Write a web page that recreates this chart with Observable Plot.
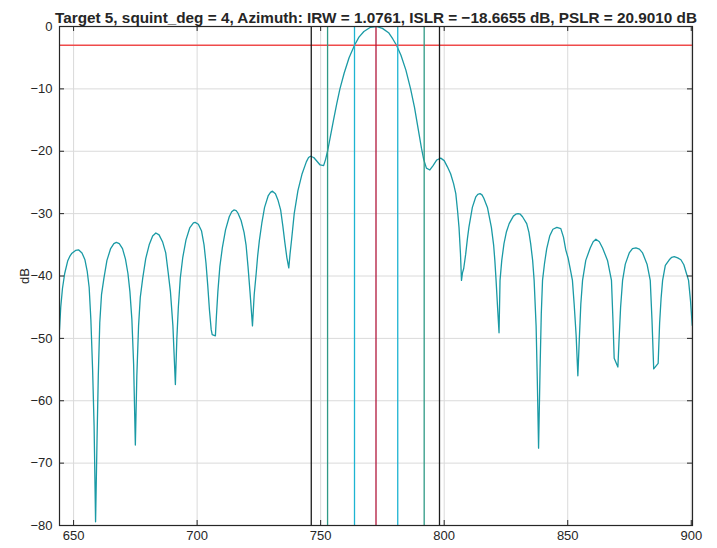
<!DOCTYPE html>
<html>
<head>
<meta charset="utf-8">
<script src="https://cdn.jsdelivr.net/npm/d3@7"></script>
<script src="https://cdn.jsdelivr.net/npm/@observablehq/plot@0.6"></script>
<style>
  html, body { margin: 0; padding: 0; background: #ffffff; }
</style>
</head>
<body>
<div id="chart"></div>
<script>
const chartTitle = "Target 5, squint_deg = 4, Azimuth: IRW = 1.0761, ISLR = \u221218.6655 dB, PSLR = 20.9010 dB";
const yLabel = "dB";
const xTicks = [650, 700, 750, 800, 850, 900];
const yTicks = [-80, -70, -60, -50, -40, -30, -20, -10, 0];

// azimuth profile samples (position, dB)
const azPos = [
  644.3, 644.8, 645.5, 646.4, 647.6, 648.4, 649.2, 650.8, 652.0, 653.4, 654.6, 655.5, 656.3, 657.0, 657.7, 658.3, 658.9,
  659.5, 660.0, 660.6, 661.3, 662.3, 663.5, 665.0, 666.3, 667.3, 668.5, 669.8, 671.0, 672.0, 672.8, 673.6, 674.3, 675.0,
  675.6, 676.3, 677.0, 678.0, 679.2, 680.6, 682.0, 683.3, 684.6, 686.0, 687.3, 688.3, 689.2, 690.2, 691.2,
  691.8, 692.4, 693.2, 694.2, 695.5, 697.0, 698.5, 699.2, 700.5, 701.8, 702.8, 703.6, 704.3, 705.0, 705.7, 706.1, 707.4,
  707.8, 708.4, 709.2, 710.2, 711.5, 713.0, 714.0, 714.9, 715.8, 716.5, 717.8, 719.0, 719.8, 720.6, 721.4, 722.4,
  723.1, 723.9, 724.5, 725.2, 726.2, 727.3, 728.8, 729.7, 730.5, 731.7, 732.7, 733.8, 734.7, 735.5, 736.3, 737.1,
  737.6, 738.2, 739.3, 740.8, 742.5, 744.2, 745.1, 745.9, 747.2, 748.5, 749.8, 751.2,
  752.0, 752.9, 754.0, 755.2, 756.5, 757.8, 759.5, 761.5, 763.7, 765.5, 767.5, 770.0, 772.5, 775.0, 777.5, 779.2,
  780.7, 782.5, 784.5, 786.4, 788.0, 789.5, 790.8, 791.7, 792.8, 794.2, 795.5, 797.0, 798.6,
  800.0, 801.3, 802.6, 803.8, 804.7, 805.4, 806.0, 806.6, 807.0, 807.4, 807.9,
  808.7, 809.4, 810.0, 811.4, 812.8, 813.6, 814.5, 815.3, 816.0, 817.5, 819.1, 820.0, 820.5, 821.0, 821.6, 822.2,
  822.6, 823.3, 824.2, 825.2, 826.3, 828.0, 829.0, 829.9, 830.8, 831.7, 833.4, 834.3, 835.0, 835.8, 836.4, 837.2, 837.7, 838.2,
  838.8, 839.3, 839.8, 840.6, 841.5, 842.7, 844.0, 845.6, 847.2, 848.3, 849.2, 850.2, 851.0, 851.9, 852.6, 853.4, 854.1,
  854.7, 855.3, 856.0, 857.3, 859.1, 860.3, 861.4, 862.8, 864.1, 866.1, 867.7, 868.3, 868.8, 870.3,
  870.8, 871.4, 872.2, 873.3, 874.9, 876.2, 877.6, 879.0, 880.3, 882.1, 883.4, 884.1, 884.8, 886.6,
  887.2, 887.8, 888.4, 889.5, 891.1, 892.1, 893.1, 894.5, 895.8, 897.0, 897.9, 898.9, 899.7, 900.4
];
const azDb = [
  -48.6, -45.0, -42.0, -39.6, -37.6, -36.9, -36.4, -35.9, -35.8, -36.3, -37.4, -39.2, -41.8, -47.0, -55.0, -64.0, -79.4,
  -66.0, -56.0, -47.5, -43.0, -40.3, -37.5, -35.6, -34.8, -34.6, -34.8, -35.6, -37.3, -39.6, -42.5, -47.0, -54.1, -67.1,
  -56.0, -48.0, -43.4, -40.3, -37.2, -35.0, -33.6, -33.1, -33.4, -34.5, -36.3, -39.5, -42.5, -48.0, -57.4,
  -50.0, -45.0, -40.3, -37.0, -34.2, -32.3, -31.5, -31.4, -31.7, -32.8, -35.0, -38.0, -41.5, -45.5, -48.6, -49.4, -49.6,
  -46.5, -42.5, -38.5, -35.5, -32.6, -30.5, -29.7, -29.4, -29.5, -29.9, -31.1, -33.0, -35.0, -38.5, -42.5, -48.0,
  -43.0, -39.6, -36.8, -34.3, -31.5, -29.0, -27.1, -26.6, -26.4, -26.8, -27.8, -29.4, -32.0, -34.6, -37.0, -38.7,
  -36.5, -34.3, -30.0, -26.3, -23.6, -21.7, -21.0, -20.8, -21.0, -21.6, -22.2, -22.3,
  -21.3, -19.8, -17.5, -15.0, -12.4, -10.0, -7.5, -5.0, -3.0, -1.7, -0.8, -0.15, 0, -0.3, -1.0, -2.0,
  -3.0, -4.6, -7.0, -10.0, -13.0, -16.5, -19.5, -21.3, -22.7, -23.0, -22.3, -21.4, -21.1,
  -21.5, -22.5, -23.6, -25.2, -26.8, -29.5, -32.2, -36.5, -40.7, -39.5, -38.8,
  -36.5, -34.0, -32.2, -29.0, -27.3, -26.9, -26.8, -27.0, -27.5, -29.0, -32.2, -35.0, -37.5, -40.7, -45.0, -49.1,
  -40.7, -37.5, -34.8, -32.9, -31.6, -30.4, -30.1, -30.0, -30.1, -30.5, -31.6, -33.0, -34.8, -37.5, -40.7, -48.0, -57.0, -67.6,
  -55.0, -46.0, -40.7, -38.0, -35.6, -33.6, -32.5, -32.2, -32.4, -33.8, -35.8, -37.2, -38.8, -40.7, -44.5, -49.5, -56.0,
  -50.0, -44.5, -40.7, -37.5, -35.5, -34.5, -34.1, -34.5, -35.5, -37.5, -40.7, -47.0, -53.2, -54.6,
  -50.0, -45.0, -40.7, -38.1, -36.3, -35.6, -35.5, -35.7, -36.3, -38.1, -40.7, -47.0, -54.9, -54.0,
  -47.5, -43.5, -40.7, -38.3, -37.4, -37.0, -36.9, -37.1, -37.4, -38.2, -39.4, -40.7, -44.0, -47.9
];

// marker lines
const halfPowerLevel = [-3];
const outerBounds = [746.2, 798.1];
const mainlobeBounds = [752.8, 791.9];
const halfPowerBounds = [763.7, 781.2];
const peakPos = [772.4];

const profile = azPos.map((x, i) => ({x, y: azDb[i]}));

const W = 717, H = 548;
const mL = 59, mR = 25, mT = 26, mB = 23;
const plotW = W - mL - mR, plotH = H - mT - mB;
const axisColor = "#262626";

const chart = Plot.plot({
  width: W,
  height: H,
  marginLeft: mL,
  marginRight: mR,
  marginTop: mT,
  marginBottom: mB,
  style: {fontFamily: "'Liberation Sans', Arial, Helvetica, sans-serif", fontSize: "13px", color: axisColor, background: "#ffffff"},
  x: {domain: [644.3, 900.5]},
  y: {domain: [-80, 0]},
  marks: [
    Plot.gridX(xTicks, {stroke: "#dadada", strokeOpacity: 1, strokeWidth: 1}),
    Plot.gridY(yTicks, {stroke: "#dadada", strokeOpacity: 1, strokeWidth: 1}),
    Plot.line(profile, {x: "x", y: "y", stroke: "#1a9aa5", strokeWidth: 1.3, clip: true}),
    Plot.ruleY(halfPowerLevel, {stroke: "#ef4a4a", strokeWidth: 1.4}),
    Plot.ruleX(outerBounds, {stroke: "#1c1c1c", strokeWidth: 1.3}),
    Plot.ruleX(mainlobeBounds, {stroke: "#2f9a86", strokeWidth: 1.3}),
    Plot.ruleX(halfPowerBounds, {stroke: "#1db4d2", strokeWidth: 1.3}),
    Plot.ruleX(peakPos, {stroke: "#b1173b", strokeWidth: 1.3}),
    Plot.tickX(xTicks, {x: d => d, insetTop: plotH - 5, stroke: axisColor}),
    Plot.tickX(xTicks, {x: d => d, insetBottom: plotH - 5, stroke: axisColor}),
    Plot.tickY(yTicks, {y: d => d, insetRight: plotW - 5, stroke: axisColor}),
    Plot.tickY(yTicks, {y: d => d, insetLeft: plotW - 5, stroke: axisColor}),
    Plot.frame({stroke: axisColor, strokeWidth: 1.2}),
    Plot.axisX({ticks: xTicks, tickSize: 0, tickPadding: 5, fontSize: 13, label: null}),
    Plot.axisY({ticks: yTicks, tickSize: 0, tickPadding: 7, fontSize: 13, label: yLabel, labelAnchor: "center", labelArrow: "none", labelOffset: 40}),
    Plot.text([chartTitle], {frameAnchor: "top", dy: -14, fontSize: 15.3, fontWeight: "bold", fill: axisColor})
  ]
});
document.getElementById("chart").appendChild(chart);
</script>
</body>
</html>
